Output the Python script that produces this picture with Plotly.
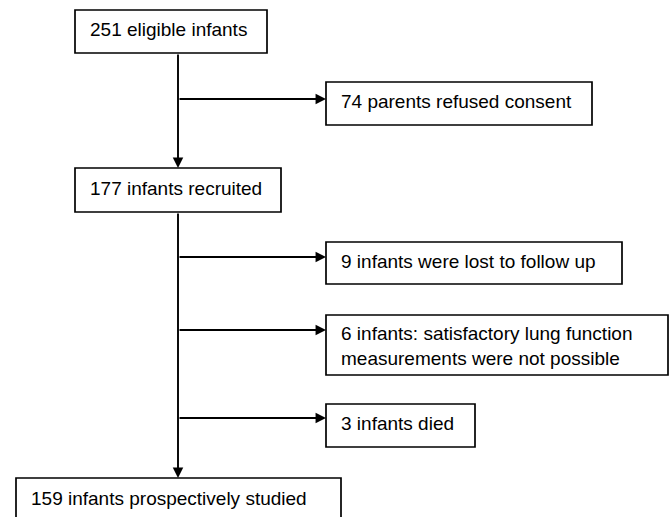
import plotly.graph_objects as go

# Flowchart content
main_labels = ["251 eligible infants", "177 infants recruited", "159 infants prospectively studied"]
side_labels = [
    "74 parents refused consent",
    "9 infants were lost to follow up",
    "6 infants: satisfactory lung function<br>measurements were not possible",
    "3 infants died",
]

# Layout geometry (page pixel space: x0, y0, x1, y1)
main_boxes = [(75, 10, 267, 53), (75, 168, 281, 212), (16, 478, 341, 530)]
side_boxes = [(326, 82, 592, 125), (326, 242, 622, 284), (326, 315, 668, 375), (326, 404, 475, 447)]
side_text_offsets = [-2, -2, 1, -2]
branch_y = [99, 257, 330, 418]
trunk_x = 178

W, H = 670, 517
fig = go.Figure()

shapes = []
annotations = []
font = dict(family="Liberation Sans, Arial, sans-serif", size=19, color="black")

def add_box(b, text, yoff=-2):
    x0, y0, x1, y1 = b
    shapes.append(dict(type="rect", x0=x0, y0=y0, x1=x1, y1=y1, xref="x", yref="y",
                       line=dict(color="black", width=1.7), fillcolor="white", layer="above"))
    yc = (y0 + y1) / 2 if y1 <= H else y0 + 22
    annotations.append(dict(x=x0 + 13, y=yc + yoff, xref="x", yref="y", text=text, showarrow=False,
                            xanchor="left", yanchor="middle", align="left", font=font))

for b, t in zip(main_boxes, main_labels):
    add_box(b, t)
for b, t, o in zip(side_boxes, side_labels, side_text_offsets):
    add_box(b, t, o)

def arrow(x0, y0, x1, y1):
    annotations.append(dict(x=x1, y=y1, ax=x0, ay=y0, xref="x", yref="y", axref="x", ayref="y",
                            text="", showarrow=True, arrowhead=2, arrowsize=1.1, arrowwidth=1.9,
                            arrowcolor="black"))

# trunk arrows
arrow(trunk_x, main_boxes[0][3], trunk_x, main_boxes[1][1])
arrow(trunk_x, main_boxes[1][3], trunk_x, main_boxes[2][1])
# branch arrows
for by, b in zip(branch_y, side_boxes):
    arrow(trunk_x, by, b[0], by)

fig.update_layout(
    width=W, height=H, margin=dict(l=0, r=0, t=0, b=0),
    paper_bgcolor="white", plot_bgcolor="white",
    xaxis=dict(range=[0, W], visible=False, fixedrange=True),
    yaxis=dict(range=[H, 0], visible=False, fixedrange=True),
    shapes=shapes, annotations=annotations, showlegend=False,
)
fig.write_html(
    "out.html",
    config={"displayModeBar": False},
    post_script="document.body.style.margin='0';document.body.style.overflow='hidden';",
)
